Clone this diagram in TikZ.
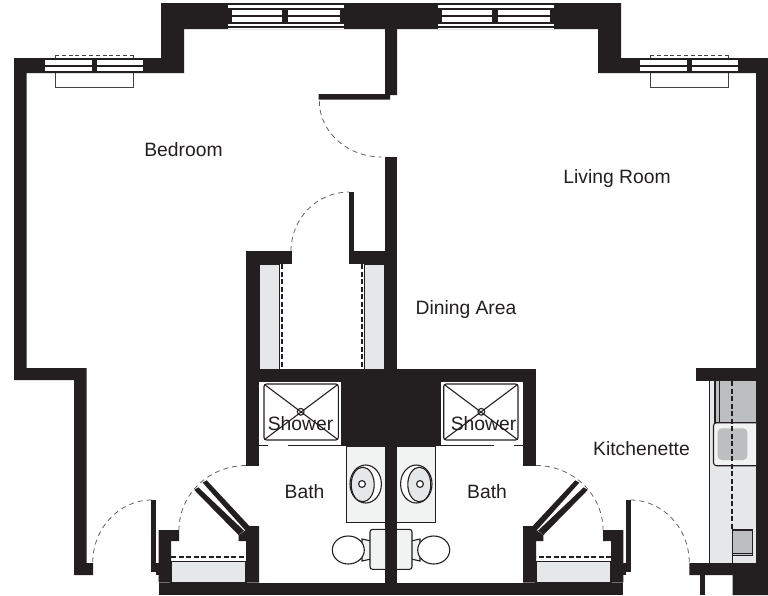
\documentclass[tikz,border=0pt]{standalone}
\usepackage{fontspec}
\setmainfont{Liberation Sans}
\definecolor{ink}{HTML}{231F20}
\definecolor{lightfill}{HTML}{E6E7E8}
\definecolor{palefill}{HTML}{F1F2F2}
\definecolor{midfill}{HTML}{BCBEC0}
\tikzset{
  wall/.style={fill=ink,draw=none},
  thin line/.style={draw=ink,line width=1.1pt},
  hair line/.style={draw=ink!85,line width=0.8pt},
  swing/.style={draw=ink!70,line width=0.8pt,dash pattern=on 5pt off 4pt},
  track/.style={draw=ink,line width=2pt,dash pattern=on 5pt off 2.5pt},
  room/.style={inner sep=0pt,anchor=base,text=ink,font=\fontsize{19.3}{19.3}\selectfont},
}
\newcommand{\topwindow}{%
  \fill[white] (0,2.8) rectangle (116,29.2);
  \fill[ink] (0,3.2) rectangle (116,5.2);
  \fill[ink] (0,7.5) rectangle (116,23.5);
  \fill[ink] (0,26) rectangle (116,28.4);
  \fill[white] (4,10) rectangle (54,14.7);
  \fill[white] (59.5,10) rectangle (112,14.7);
  \fill[white] (4,16.8) rectangle (54,21.6);
  \fill[white] (59.5,16.8) rectangle (112,21.6);
}
\newcommand{\sidewindow}{%
  \fill[ink] (0,58) rectangle (105,73);
  \fill[white] (3.5,60.3) rectangle (51,64.7);
  \fill[white] (55.5,60.3) rectangle (102,64.7);
  \fill[white] (3.5,66.7) rectangle (51,70.7);
  \fill[white] (55.5,66.7) rectangle (102,70.7);
  \draw[hair line,dash pattern=on 4pt off 2.8pt] (14,55) -- (92,55);
  \draw[hair line] (14,55) -- (14,58) (92,55) -- (92,58);
  \draw[hair line] (14,73) -- (14,87) -- (92,87) -- (92,73);
}
\newcommand{\bathhalf}{%
  % shower
  \fill[white] (259,382) rectangle (341,446);
  \draw[thin line,rounded corners=2.5pt] (264,384) rectangle (338.3,440);
  \draw[thin line] (264.5,384.5) -- (337.8,439.5) (337.8,384.5) -- (264.5,439.5);
  \draw[thin line] (300.7,411.8) circle (3.4);
  \draw[thin line] (259,445.3) -- (268,445.3) (288,445.3) -- (341,445.3);
  % walls
  \fill[wall] (246,369.3) rectangle (259,466);
  \fill[wall] (341,369.3) rectangle (391,446);
  \fill[wall] (385,446) rectangle (391,583);
  \fill[wall] (158.7,582.7) rectangle (391,595);
  % vanity, basin
  \draw[thin line,fill=palefill] (385,446) -- (346.3,446) -- (346.3,522.3) -- (385,522.3);
  \draw[thin line,fill=white] (365.7,484) ellipse [x radius=15.7,y radius=19];
  \draw[thin line,fill=lightfill] (362.7,484.5) ellipse [x radius=11.5,y radius=17.3];
  \draw[thin line,fill=white] (362,484) circle (3.4);
  % toilet
  \draw[thin line,fill=palefill] (362,539) -- (371,541) -- (371,559) -- (362,561) -- cycle;
  \draw[thin line,fill=palefill,rounded corners=2.5pt] (385,529.3) -- (370,529.3) -- (370,569.3) -- (385,569.3);
  \draw[thin line,fill=white] (348.3,550) ellipse [x radius=16,y radius=14];
  % door swings
  \draw[swing] (246,465.5) .. controls (209,465.5) and (179,494.4) .. (179,530);
  \draw[swing] (151.7,500) .. controls (119.1,500) and (92.7,528.2) .. (92.7,563);
  % closet
  \fill[wall] (158.7,530) -- (179,530) -- (179,541) -- (171,541) -- (171,582.7) -- (158.7,582.7) -- cycle;
  \fill[wall] (248,526) -- (259,526) -- (259,582.7) -- (246,582.7) -- (246,541) -- (238.7,541) -- (238.7,535) -- (244.5,531) -- cycle;
  \fill[wall] (202.7,482.7) -- (206.7,480.3) -- (250,526.7) -- (245,530) -- cycle;
  \fill[wall] (194.3,490) -- (198.3,487.3) -- (244,530.7) -- (238.5,535) -- cycle;
  \draw[thin line,fill=lightfill] (171,561.5) rectangle (246,582.7);
  \draw[track] (171,557.3) -- (246,557.3);
  % entry door jamb
  \fill[wall] (150.7,500) rectangle (156,571.5);
  \fill[wall] (156,563) rectangle (158.7,575);
}
\begin{document}
\begin{tikzpicture}[x=1pt,y=-1pt]
\useasboundingbox (0,0) rectangle (768,595);
\fill[white] (0,0) rectangle (768,595);
% perimeter
\fill[wall] (14,58) -- (161,58) -- (161,3) -- (621,3) -- (621,58) -- (768,58) -- (768,595)
  -- (732.7,595) -- (732.7,575) -- (689.3,575) -- (689.3,563) -- (756,563) -- (756,73)
  -- (598,73) -- (598,29) -- (184,29) -- (184,73) -- (26.5,73) -- (26.5,368) -- (86.5,368)
  -- (86.5,563) -- (93,563) -- (93,575) -- (74,575) -- (74,380) -- (14,380) -- cycle;
% windows
\begin{scope}[shift={(228,0)}]\topwindow\end{scope}
\begin{scope}[shift={(438,0)}]\topwindow\end{scope}
\begin{scope}[shift={(41,0)}]\sidewindow\end{scope}
\begin{scope}[shift={(636,0)}]\sidewindow\end{scope}
% partition between bedroom and living room
\fill[wall] (385,29) -- (397,29) -- (397,95) -- (390,95) -- (390,99.5) -- (318.5,99.5) -- (318.5,94) -- (385,94) -- cycle;
\draw[swing] (319.3,101) .. controls (319.3,131.9) and (347.2,157) .. (381.7,157);
\fill[wall] (385,157) rectangle (397,380);
% wardrobes
\draw[thin line,fill=lightfill] (259,264.3) rectangle (279.3,369.5);
\draw[thin line,fill=lightfill] (364.8,264.3) rectangle (385,369.5);
\draw[track] (282.3,264) -- (282.3,369);
\draw[track] (361.7,264) -- (361.7,369);
\fill[wall] (246,251.3) rectangle (291.7,264);
\fill[wall] (246,251.3) rectangle (259,369.5);
\fill[wall] (349.3,192) rectangle (354.3,251.3);
\fill[wall] (349.3,251.3) rectangle (385,264);
\draw[swing] (291,251) .. controls (291,218.4) and (317,192) .. (349,192);
% cross wall above showers
\fill[wall] (246,369.3) rectangle (535.7,382);
% baths
\begin{scope}\bathhalf\end{scope}
\begin{scope}[shift={(782,0)},xscale=-1]\bathhalf\end{scope}
% kitchenette
\fill[wall] (696,368.3) rectangle (756,380.7);
\fill[wall] (700,575) rectangle (705,595);
\fill[lightfill] (709.5,380.7) rectangle (756,563);
\fill[midfill] (720,380.7) rectangle (756,422.7);
\fill[midfill] (715,380.7) rectangle (719.5,422.7);
\draw[thin line] (709.5,380.7) -- (709.5,563);
\draw[thin line] (715,380.7) -- (715,422.7) (719.7,380.7) -- (719.7,422.7);
\draw[thin line,fill=palefill,rounded corners=3pt] (756,422.7) -- (713.5,422.7) -- (713.5,465.7) -- (756,465.7);
\fill[midfill,rounded corners=4pt] (717.7,428.3) rectangle (747.3,460);
\draw[thin line,fill=midfill] (732.3,530) rectangle (752.3,555.3);
\draw[thin line] (732.3,553.3) -- (752.3,553.3);
\draw[track,line width=1.6pt] (731.7,381) -- (731.7,530);
\draw[thin line] (732.3,530) -- (732.3,563);
% labels
\node[room] (bedroom) at (183.5,156) {Bedroom};
\node[room] (living) at (617,183.3) {Living Room};
\node[room] (dining) at (466,314) {Dining Area};
\node[room] (kitchenette) at (641.5,455) {Kitchenette};
\node[room] (bathl) at (304.5,498.3) {Bath};
\node[room] (bathr) at (487,498.3) {Bath};
\node[room] (showerl) at (300.5,430.7) {Shower};
\node[room] (showerr) at (483.5,430.7) {Shower};
\end{tikzpicture}
\end{document}
